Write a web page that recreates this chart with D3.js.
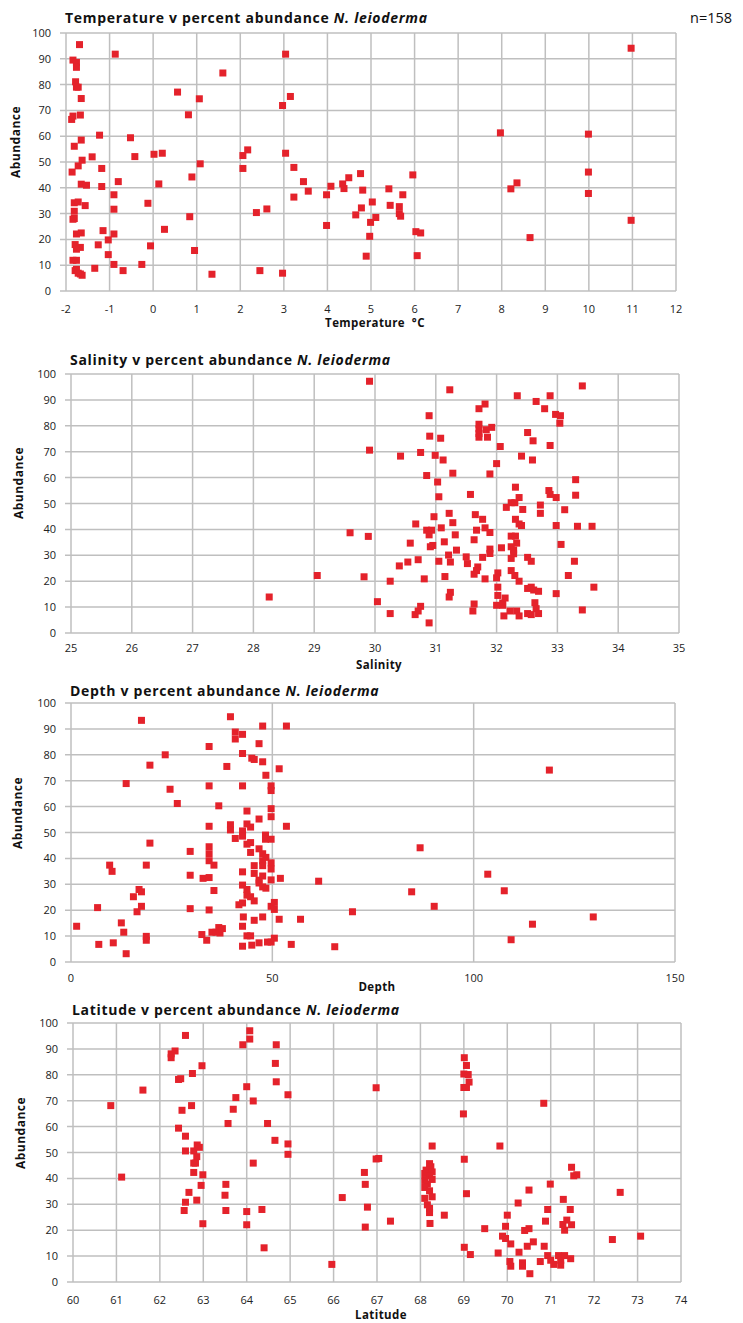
<!DOCTYPE html>
<html>
<head>
    <script src="https://d3js.org/d3.v7.min.js"></script>
    <style>
        body { margin: 0; background: #fff; }
        text { font-family: "Open Sans", "DejaVu Sans", sans-serif; }
    </style>
</head>
<body>
<svg id="chart" width="743" height="1323"></svg>
<script>
// [temperature, abundance]
var temperaturePoints = [
  [-1.69,95.5],[-1.84,89.5],[-1.76,88.6],[-1.76,86.7],[-1.78,81.1],[-1.76,79.0],[-1.72,79.0],[-1.65,74.6],
  [-1.87,66.5],[-1.84,67.8],[-1.67,68.2],[-1.81,56.1],[-1.65,58.5],[-1.86,46.1],[-1.72,48.5],[-1.63,50.7],
  [-1.65,41.4],[-1.53,41.0],[-1.81,34.2],[-1.72,34.5],[-1.56,33.1],[-1.81,30.9],[-1.84,27.8],[-1.81,28.1],
  [-1.76,22.1],[-1.65,22.5],[-1.79,18.0],[-1.67,16.9],[-1.76,16.2],[-1.84,11.9],[-1.76,11.9],[-1.76,8.4],
  [-1.79,7.9],[-1.67,6.6],[-1.63,6.1],[-1.72,6.9],[-1.23,60.4],[-1.40,52.0],[-1.18,47.5],[-1.18,40.5],
  [-0.87,91.8],[-0.80,42.4],[-0.90,37.3],[-0.90,31.7],[-1.15,23.4],[-1.03,19.8],[-1.26,17.9],[-1.03,14.1],
  [-0.90,22.1],[-1.34,8.8],[-0.90,10.3],[-0.69,7.9],[-0.52,59.4],[-0.42,52.1],[-0.12,34.0],[-0.26,10.3],
  [-0.06,17.5],[0.02,53.0],[0.21,53.4],[0.13,41.5],[0.26,23.9],[0.56,77.1],[0.81,68.3],[1.06,74.5],
  [1.60,84.5],[0.89,44.2],[1.08,49.3],[0.84,28.8],[0.95,15.7],[1.35,6.5],[2.06,52.5],[2.17,54.7],
  [2.06,47.5],[2.37,30.4],[2.61,31.8],[2.45,7.9],[3.04,91.8],[3.15,75.4],[2.97,71.9],[3.04,53.4],
  [3.23,47.9],[3.45,42.4],[3.56,38.7],[3.23,36.4],[2.97,6.9],[3.98,37.3],[4.08,40.6],[3.98,25.4],
  [4.35,41.5],[4.38,39.7],[4.49,43.9],[4.76,45.5],[4.81,39.1],[4.78,32.2],[4.65,29.5],[4.89,13.5],
  [4.99,26.6],[4.97,21.2],[5.03,34.5],[10.97,94.1],[7.97,61.3],[9.99,60.8],[9.99,46.1],[9.99,37.8],
  [10.97,27.4],[8.21,39.6],[8.35,41.9],[8.65,20.7],[5.96,45.0],[5.41,39.6],[5.73,37.3],[5.44,33.2],
  [5.65,32.7],[5.65,30.0],[5.68,29.0],[5.11,28.5],[6.03,23.0],[6.14,22.5],[6.06,13.7]
];

// [salinity, abundance]
var salinityPoints = [
  [28.26,13.9],[29.05,22.2],[29.59,38.7],[29.82,21.7],[29.89,37.3],[29.91,70.6],[29.91,97.2],
  [31.23,93.9],[32.34,91.6],[32.88,91.6],[33.41,95.4],[32.65,89.4],[32.79,86.6],[31.81,88.4],[31.71,86.6],
  [32.97,84.4],[33.05,83.9],[33.04,81.0],[30.89,83.9],[31.71,80.6],[31.71,78.8],[31.71,77.0],[31.71,75.6],
  [31.83,78.5],[31.92,79.4],[31.85,75.6],[30.90,76.0],[31.08,75.2],[32.51,77.4],[32.60,74.2],[32.88,72.4],
  [32.06,72.0],[30.42,68.3],[30.75,69.7],[30.99,68.6],[31.12,66.8],[32.41,68.3],[32.59,66.8],[32.00,65.4],
  [30.85,60.8],[31.28,61.7],[31.89,61.4],[31.03,58.3],[33.30,59.2],[31.05,52.6],[31.57,53.5],[32.31,56.3],
  [32.86,55.0],[32.88,53.5],[32.98,52.3],[33.30,53.2],[32.37,52.3],[32.24,50.3],[32.30,50.3],[32.16,48.5],
  [32.43,47.7],[32.72,49.4],[32.72,46.2],[33.12,47.6],[31.22,46.2],[31.65,45.7],[30.97,44.9],[31.28,42.6],
  [31.77,43.9],[30.67,42.1],[32.31,43.9],[32.37,42.1],[32.41,41.5],[32.98,41.5],[33.33,41.2],[33.57,41.2],
  [30.85,39.7],[30.93,39.7],[30.89,37.9],[31.09,40.6],[31.67,39.7],[31.81,40.6],[31.89,38.8],[31.32,37.9],
  [32.24,37.4],[32.31,37.4],[32.33,34.7],[30.58,34.7],[31.14,35.2],[31.63,36.0],[30.95,33.8],[30.91,33.3],
  [31.89,32.4],[31.89,30.7],[32.08,32.9],[32.24,33.3],[32.28,32.0],[32.28,30.6],[33.06,34.2],[31.34,32.0],
  [31.21,30.1],[31.50,29.4],[31.77,29.2],[32.24,28.8],[32.51,29.2],[32.57,27.7],[33.28,27.7],[30.71,28.3],
  [30.54,27.4],[30.40,25.9],[31.05,27.7],[31.24,27.4],[31.52,26.8],[31.69,25.5],[31.67,24.1],[31.63,22.7],
  [32.24,24.1],[32.30,22.2],[32.02,23.2],[32.00,21.3],[31.81,20.9],[31.15,21.8],[30.81,20.9],[30.25,20.0],
  [33.18,22.2],[32.37,20.0],[32.02,17.7],[32.51,17.2],[32.57,17.7],[32.61,16.6],[32.69,16.1],[33.60,17.7],
  [32.98,15.2],[31.24,15.7],[31.22,13.9],[32.02,14.5],[32.14,13.5],[32.10,11.6],[32.00,10.7],[32.10,10.7],
  [32.63,11.7],[32.65,9.4],[31.63,11.2],[31.61,8.5],[30.75,10.3],[30.71,8.5],[30.66,7.1],[30.04,12.1],
  [30.25,7.5],[30.89,3.9],[32.22,8.5],[32.12,6.6],[32.33,8.5],[32.37,6.6],[32.51,7.5],[32.57,7.1],
  [32.69,7.5],[33.41,8.9]
];

// [depth, abundance]
var depthPoints = [
  [1.4,13.8],[6.6,21.0],[6.9,6.8],[9.6,37.4],[10.2,35.0],[10.5,7.4],[12.5,15.1],[13.1,11.5],[13.7,3.2],
  [13.7,68.9],[15.5,25.2],[16.4,19.4],[16.9,28.0],[17.5,27.1],[17.5,21.5],[17.5,93.3],[18.7,37.4],[18.7,9.9],
  [18.7,8.4],[19.6,76.0],[19.6,45.9],[23.4,80.0],[24.6,66.7],[26.4,61.2],[29.6,42.7],[29.6,33.5],[29.6,20.6],
  [32.5,10.6],[32.8,32.3],[33.7,8.4],[34.3,83.2],[34.3,68.0],[34.3,52.4],[34.3,44.5],[34.3,41.8],[34.3,39.1],
  [34.3,32.6],[34.3,20.1],[35.5,37.4],[35.5,27.6],[35.0,11.5],[36.0,11.5],[36.7,60.3],[36.7,13.3],[37.0,11.2],
  [37.6,12.9],[38.7,75.5],[39.6,94.7],[39.6,53.0],[39.6,51.0],[40.8,88.8],[40.8,86.1],[40.8,47.7],[42.6,87.9],
  [42.6,80.5],[42.6,68.0],[42.6,50.6],[42.6,48.6],[42.6,34.8],[42.6,29.7],[42.6,22.8],[41.7,22.1],[42.6,13.8],
  [42.6,6.1],[42.8,17.4],[43.7,58.3],[43.7,53.3],[43.7,45.5],[43.7,28.0],[43.7,25.8],[43.7,10.1],[44.6,10.1],
  [44.6,52.1],[44.6,46.1],[44.6,42.3],[44.6,25.2],[44.9,78.7],[45.5,78.2],[45.5,37.2],[45.5,34.2],[45.5,23.6],
  [45.5,16.1],[44.9,6.5],[46.7,84.3],[46.7,55.2],[46.7,43.7],[46.7,31.6],[46.7,30.5],[46.7,7.4],[47.6,91.1],
  [47.6,77.3],[47.6,41.8],[47.6,39.1],[47.6,37.2],[47.6,33.2],[47.6,29.0],[47.6,17.4],[48.4,72.1],[48.3,49.0],
  [48.3,47.4],[48.4,40.4],[48.4,28.5],[48.8,7.7],[49.7,68.0],[49.7,66.2],[49.7,59.2],[49.7,56.1],[49.7,47.4],
  [49.7,38.3],[49.7,35.9],[49.7,31.7],[49.7,21.5],[49.7,7.7],[50.5,23.0],[50.5,20.3],[50.5,9.2],[51.7,74.6],
  [51.7,16.5],[52.0,32.3],[53.5,91.1],[53.5,52.4],[54.7,6.8],[57.0,16.5],[61.5,31.2],[65.5,5.9],[69.9,19.4],
  [118.8,74.1],[86.7,44.1],[84.6,27.1],[90.2,21.5],[103.5,33.9],[107.6,27.5],[129.7,17.4],[114.6,14.6],[109.3,8.6]
];

// [latitude, abundance]
var latitudePoints = [
  [60.87,68.1],[61.12,40.5],[61.61,74.1],[62.26,86.6],[62.26,88.1],[62.35,89.2],[62.43,78.2],[62.48,78.5],
  [62.59,95.2],[62.75,80.5],[62.97,83.5],[62.73,68.1],[62.51,66.3],[62.43,59.4],[62.59,56.3],[62.59,50.6],
  [62.78,50.6],[62.86,52.9],[62.91,52.0],[62.85,48.4],[62.78,45.9],[62.82,45.9],[62.78,42.3],[62.99,41.4],
  [62.95,37.3],[62.67,34.6],[62.59,30.8],[62.56,27.6],[62.85,31.6],[62.99,22.5],[63.52,37.7],[63.50,33.5],
  [63.52,27.6],[63.57,61.2],[63.69,66.7],[63.75,71.2],[63.91,91.6],[64.00,75.4],[64.07,97.0],[64.07,93.8],
  [64.15,69.9],[64.15,45.9],[64.00,27.2],[64.00,22.1],[64.35,28.0],[64.40,13.2],[64.48,61.2],[64.66,84.4],
  [64.68,91.6],[64.68,77.3],[64.65,54.7],[64.95,72.3],[64.95,53.3],[64.95,49.3],[65.96,6.8],[66.20,32.6],
  [66.71,42.3],[66.73,37.7],[66.78,28.9],[66.73,21.2],[66.98,75.0],[66.98,47.5],[67.04,47.7],[67.31,23.5],
  [68.27,52.5],[68.21,45.7],[68.24,44.5],[68.13,43.2],[68.27,42.5],[68.10,41.9],[68.21,41.0],[68.27,39.6],
  [68.10,39.2],[68.16,37.8],[68.10,36.5],[68.21,35.2],[68.27,32.9],[68.10,32.3],[68.16,29.8],[68.21,28.4],
  [68.21,26.8],[68.22,22.6],[68.55,25.8],[69.01,86.6],[69.06,83.6],[69.00,80.3],[69.10,80.1],[69.12,77.2],
  [69.00,75.1],[69.06,75.1],[68.99,64.9],[69.01,47.4],[69.06,34.1],[69.01,13.4],[69.15,10.6],[69.83,52.5],
  [70.84,69.0],[69.48,20.6],[69.79,11.2],[70.00,25.8],[69.96,21.5],[69.89,17.7],[69.96,16.8],[70.08,14.7],
  [70.06,7.9],[70.08,6.1],[70.25,30.5],[70.27,11.5],[70.50,35.5],[70.40,19.9],[70.50,20.6],[70.60,15.5],
  [70.46,13.8],[70.35,7.4],[70.35,6.1],[70.52,3.2],[70.76,7.9],[70.85,13.8],[70.88,23.5],[70.93,28.0],
  [70.99,37.8],[70.93,10.2],[71.00,8.4],[71.07,6.8],[71.18,10.2],[71.23,8.4],[71.23,6.5],[71.32,10.2],
  [71.46,9.0],[71.29,31.9],[71.28,22.2],[71.32,20.0],[71.37,23.9],[71.48,22.1],[71.45,28.0],[71.48,44.3],
  [71.53,41.0],[71.60,41.4],[72.42,16.4],[72.60,34.6],[73.07,17.7]
];

var tempTicks = d3.range(-2, 13, 1);
var salinityTicks = d3.range(25, 36, 1);
var depthTicks = [0, 50, 100, 150];
var latitudeTicks = d3.range(60, 75, 1);
var abundanceTicks = d3.range(0, 101, 10);

var panels = [
  { title: "Temperature v percent abundance ", xLabel: "Temperature\u00a0\u00a0°C", data: temperaturePoints,
    domain: [-2, 12], ticks: tempTicks, left: 66, right: 676, top: 33, bottom: 291,
    titleY: 23, tickY: 313, xLabelY: 327, yLabelX: 20, yLabelY: 142 },
  { title: "Salinity v percent abundance ", xLabel: "Salinity", data: salinityPoints,
    domain: [25, 35], ticks: salinityTicks, left: 71, right: 679, top: 374, bottom: 633,
    titleY: 365, tickY: 652, xLabelY: 669, yLabelX: 23, yLabelY: 483 },
  { title: "Depth v percent abundance ", xLabel: "Depth", data: depthPoints,
    domain: [0, 150], ticks: depthTicks, left: 71, right: 675, top: 703, bottom: 962,
    titleY: 696, tickY: 982, xLabelY: 991, yLabelX: 22, yLabelY: 813 },
  { title: "Latitude v percent abundance ", xLabel: "Latitude", data: latitudePoints,
    domain: [60, 74], ticks: latitudeTicks, left: 73, right: 681, top: 1023, bottom: 1282,
    titleY: 1015, tickY: 1304, xLabelY: 1319, yLabelX: 25, yLabelY: 1133 }
];

var svg = d3.select("#chart");
var gridColor = "#bfbfbf";
var red = "#e4222b";

panels.forEach(function(p) {
    var x = d3.scaleLinear().domain(p.domain).range([p.left, p.right]);
    var y = d3.scaleLinear().domain([0, 100]).range([p.bottom, p.top]);
    var g = svg.append("g");

    // horizontal gridlines (with small ticks on the left)
    g.selectAll(".hgrid").data(abundanceTicks).join("line")
        .attr("x1", p.left - 6).attr("x2", p.right)
        .attr("y1", function(d){ return y(d); }).attr("y2", function(d){ return y(d); })
        .attr("stroke", gridColor).attr("stroke-width", 1.5);

    // vertical gridlines
    g.selectAll(".vgrid").data(p.ticks).join("line")
        .attr("x1", function(d){ return x(d); }).attr("x2", function(d){ return x(d); })
        .attr("y1", p.top).attr("y2", p.bottom)
        .attr("stroke", gridColor).attr("stroke-width", 1.5);

    // y tick labels
    g.selectAll(".ylab").data(abundanceTicks).join("text")
        .attr("x", p.left - 15).attr("y", function(d){ return y(d) + 4; })
        .attr("text-anchor", "end").attr("font-size", 11).attr("fill", "#222")
        .text(function(d){ return d; });

    // x tick labels
    g.selectAll(".xlab").data(p.ticks).join("text")
        .attr("x", function(d){ return x(d); }).attr("y", p.tickY)
        .attr("text-anchor", "middle").attr("font-size", 11).attr("fill", "#222")
        .text(function(d){ return d; });

    // points
    g.selectAll("rect").data(p.data).join("rect")
        .attr("x", function(d){ return x(d[0]) - 3.5; })
        .attr("y", function(d){ return y(d[1]) - 3.5; })
        .attr("width", 7).attr("height", 7)
        .attr("fill", red);

    // title
    var t = g.append("text").attr("x", p.left - 1).attr("y", p.titleY)
        .attr("font-size", 14).attr("font-weight", "bold").attr("fill", "#111")
        .attr("letter-spacing", 0.7);
    t.append("tspan").text(p.title);
    t.append("tspan").attr("font-style", "italic").text("N. leioderma");

    // axis titles
    g.append("text").attr("x", (p.left + p.right) / 2 + 4).attr("y", p.xLabelY)
        .attr("text-anchor", "middle").attr("font-size", 11.5).attr("font-weight", "bold")
        .attr("fill", "#111").attr("letter-spacing", 0.4).text(p.xLabel);
    g.append("text")
        .attr("transform", "translate(" + p.yLabelX + "," + p.yLabelY + ") rotate(-90)")
        .attr("text-anchor", "middle").attr("font-size", 12).attr("font-weight", "bold")
        .attr("fill", "#111").attr("letter-spacing", 0.5).text("Abundance");
});

svg.append("text").attr("x", 690).attr("y", 23).attr("font-size", 14.5)
    .attr("fill", "#111").text("n=158");
</script>
</body>
</html>
